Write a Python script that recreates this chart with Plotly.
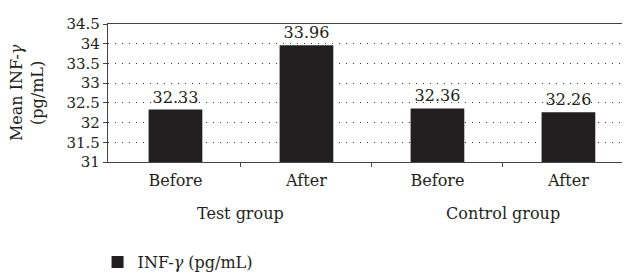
import plotly.graph_objects as go

categories = ["Before", "After", "Before", "After"]
groups = ["Test group", "Control group"]
values = [32.33, 33.96, 32.36, 32.26]
y_ticks = [31, 31.5, 32, 32.5, 33, 33.5, 34, 34.5]
y_tick_labels = ["31", "31.5", "32", "32.5", "33", "33.5", "34", "34.5"]
series_name = "INF-<i>γ</i> (pg/mL)"

FONT = "DejaVu Serif"
INK = "#231f20"
x_pos = list(range(len(categories)))

fig = go.Figure()
fig.add_trace(go.Bar(
    x=x_pos, y=values, name=series_name,
    marker=dict(color=INK, line=dict(width=0)),
    text=[f"{v:.2f}" for v in values], textposition="outside",
    textfont=dict(family=FONT, size=16, color=INK),
    cliponaxis=False, showlegend=True,
))

for i, g in enumerate(groups):
    fig.add_annotation(x=2 * i + 0.5, xref="x", y=-0.37, yref="paper",
                       text=g, showarrow=False, yanchor="middle",
                       font=dict(family=FONT, size=16, color=INK))

fig.add_annotation(x=-0.155, xref="paper", y=0.5, yref="paper",
                   text="Mean INF-<i>γ</i><br>(pg/mL)", textangle=-90,
                   showarrow=False, xanchor="center", yanchor="middle",
                   font=dict(family=FONT, size=16, color=INK))

# page body has an 8px default margin, so the figure is 8px smaller
fig.update_layout(
    width=622, height=266,
    margin=dict(l=100, r=0, t=16, b=112, autoexpand=False),
    paper_bgcolor="white", plot_bgcolor="white",
    bargap=0.59,
    font=dict(family=FONT, color=INK),
    showlegend=True,
    legend=dict(orientation="h", x=-0.02, xanchor="left", y=-0.725, yanchor="middle",
                font=dict(family=FONT, size=16, color=INK), bgcolor="rgba(0,0,0,0)"),
    xaxis=dict(
        range=[-0.515, 3.47], automargin=False,
        tickmode="array", tickvals=x_pos, ticktext=categories,
        ticks="", showline=True, linecolor="#444", linewidth=1.2, mirror=True,
        showgrid=False, zeroline=False, ticklabelstandoff=4,
        tickfont=dict(family=FONT, size=16, color=INK),
        minor=dict(tickmode="array", tickvals=[0.5, 1.5, 2.5], ticks="outside",
                   ticklen=4, tickcolor="#444", showgrid=False),
    ),
    yaxis=dict(
        range=[31, 34.5], automargin=False,
        tickmode="array", tickvals=y_ticks, ticktext=y_tick_labels,
        ticks="outside", ticklen=4, tickcolor="#444",
        showline=True, linecolor="#444", linewidth=1.2,
        showgrid=True, gridcolor="#333", griddash="1px,6px", gridwidth=1,
        zeroline=False,
        tickfont=dict(family=FONT, size=15, color=INK),
    ),
)

fig.write_html("out.html")
